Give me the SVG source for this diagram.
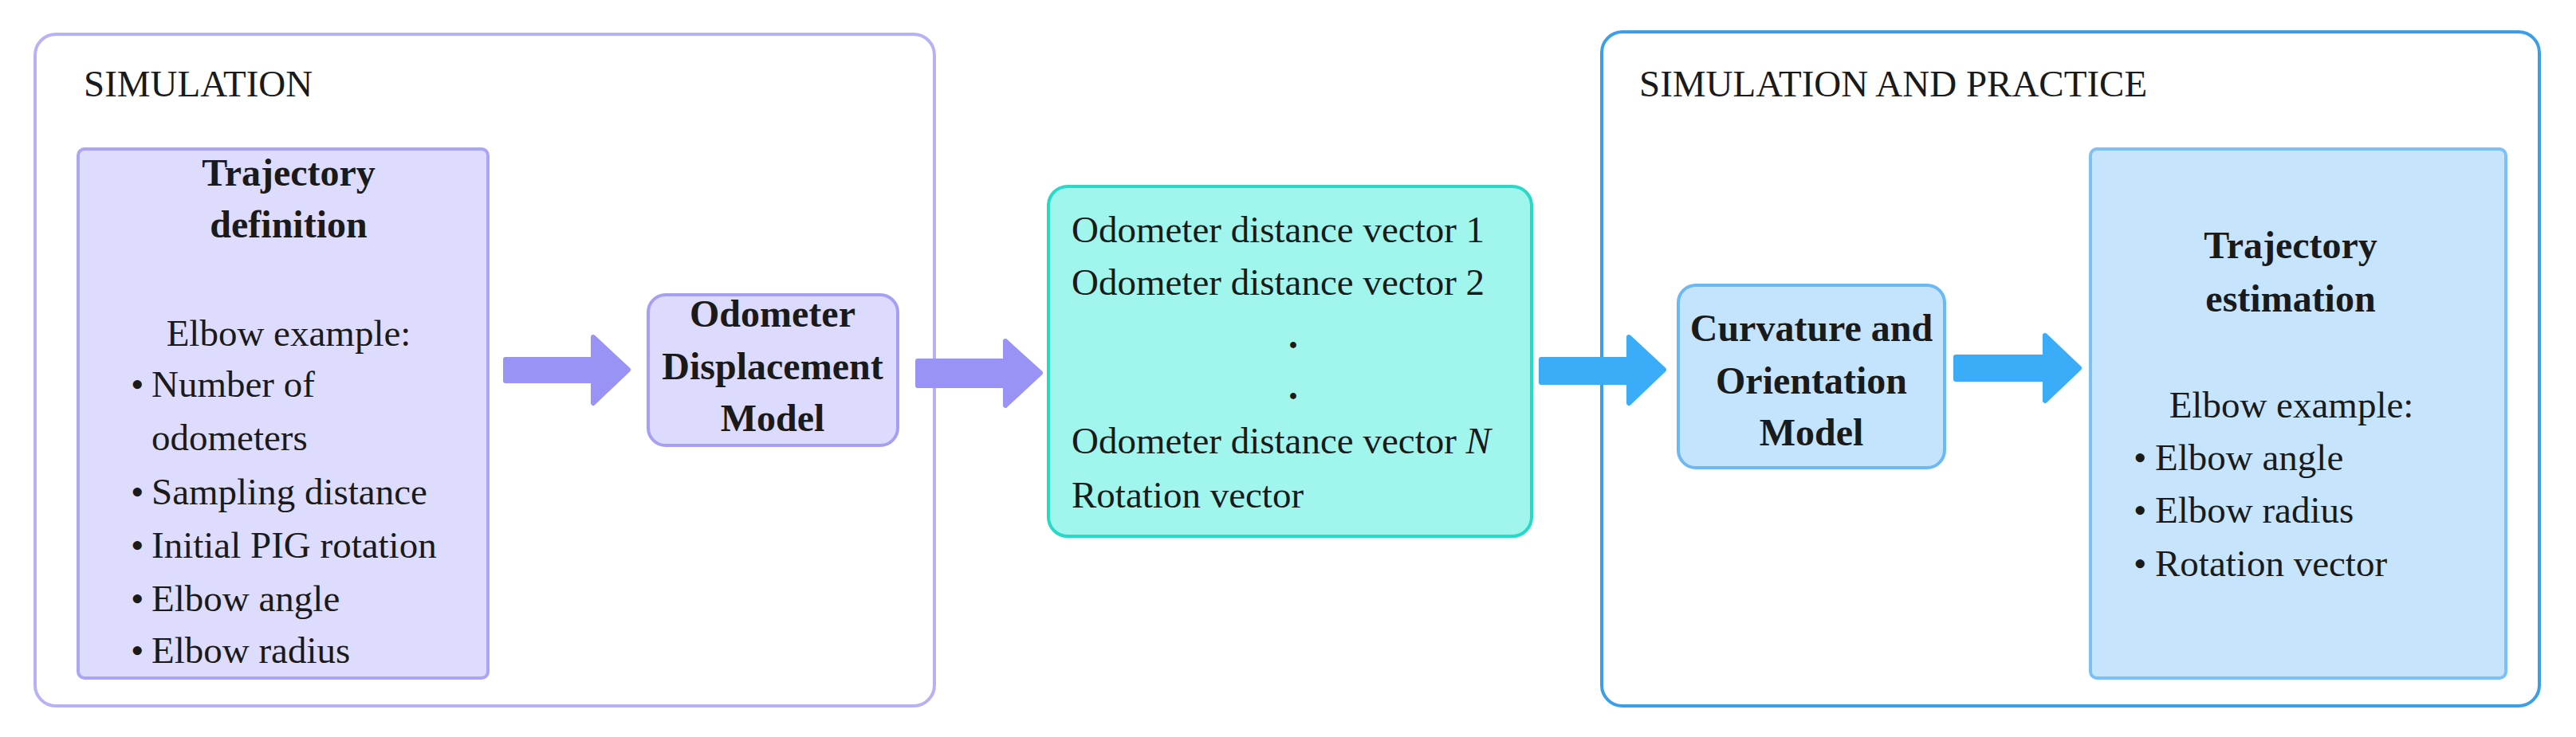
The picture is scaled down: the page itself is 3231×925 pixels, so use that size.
<svg xmlns="http://www.w3.org/2000/svg" width="3231" height="925" viewBox="0 0 3231 925">
<style>
text{font-family:"Liberation Serif","Times New Roman",serif;fill:#1a1a1a;font-size:47px}
.b{font-weight:bold;font-size:48px}
.m{text-anchor:middle}
.pa{fill:#9a93f6;stroke:#9a93f6;stroke-width:6;stroke-linejoin:round}
.ba{fill:#3aacf8;stroke:#3aacf8;stroke-width:6;stroke-linejoin:round}
</style>
<rect width="3231" height="925" fill="#ffffff"/>
<g id="group-simulation">
<rect x="44" y="43" width="1128" height="843" rx="26" fill="#ffffff" stroke="#b7b2f6" stroke-width="4"/>
<text x="105" y="121">SIMULATION</text>
</g>
<g id="group-practice">
<rect x="2009" y="40" width="1176" height="846" rx="26" fill="#ffffff" stroke="#3a9ee8" stroke-width="4"/>
<text x="2056" y="121">SIMULATION AND PRACTICE</text>
</g>
<g id="node-trajectory-definition">
<rect x="98" y="187" width="514" height="664" rx="8" fill="#dedcfd" stroke="#aaa5f6" stroke-width="4"/>
<text class="b m" x="362" y="233">Trajectory</text>
<text class="b m" x="362" y="298">definition</text>
<text class="m" x="362" y="434">Elbow example:</text>
<text x="164" y="498">•</text><text x="190" y="498">Number of</text>
<text x="190" y="565">odometers</text>
<text x="164" y="633">•</text><text x="190" y="633">Sampling distance</text>
<text x="164" y="700">•</text><text x="190" y="700">Initial PIG rotation</text>
<text x="164" y="767">•</text><text x="190" y="767">Elbow angle</text>
<text x="164" y="832">•</text><text x="190" y="832">Elbow radius</text>
</g>
<g id="node-odometer-model">
<rect x="813" y="370" width="313" height="189" rx="22" fill="#dcdafd" stroke="#a5a0f5" stroke-width="4"/>
<text class="b m" x="969" y="410">Odometer</text>
<text class="b m" x="969" y="476">Displacement</text>
<text class="b m" x="969" y="541">Model</text>
</g>
<g id="node-distance-vectors">
<rect x="1315" y="234" width="606" height="439" rx="24" fill="#a0f5ec" stroke="#26d9c9" stroke-width="4"/>
<text x="1344" y="304">Odometer distance vector 1</text>
<text x="1344" y="370">Odometer distance vector 2</text>
<text class="b m" x="1622" y="437">.</text>
<text class="b m" x="1622" y="501">.</text>
<text x="1344" y="569">Odometer distance vector <tspan font-style="italic">N</tspan></text>
<text x="1344" y="637">Rotation vector</text>
</g>
<g id="node-curvature-model">
<rect x="2105" y="358" width="334" height="229" rx="22" fill="#c4e4fd" stroke="#6ab8f4" stroke-width="4"/>
<text class="b m" x="2272" y="428">Curvature and</text>
<text class="b m" x="2272" y="494">Orientation</text>
<text class="b m" x="2272" y="559">Model</text>
</g>
<g id="node-trajectory-estimation">
<rect x="2622" y="187" width="521" height="664" rx="8" fill="#c6e5fd" stroke="#7cc0f5" stroke-width="4"/>
<text class="b m" x="2873" y="324">Trajectory</text>
<text class="b m" x="2873" y="391">estimation</text>
<text class="m" x="2874" y="524">Elbow example:</text>
<text x="2676" y="590">•</text><text x="2703" y="590">Elbow angle</text>
<text x="2676" y="656">•</text><text x="2703" y="656">Elbow radius</text>
<text x="2676" y="723">•</text><text x="2703" y="723">Rotation vector</text>
</g>
<g id="connectors">
<path class="pa" d="M634,451 H744 V423 L788,464 L744,506 V478 H634 Z"/>
<path class="pa" d="M1151,453 H1261 V428 L1305,468 L1261,509 V484 H1151 Z"/>
<path class="ba" d="M1933,451 H2043 V423 L2087,464 L2043,506 V480 H1933 Z"/>
<path class="ba" d="M2453,448 H2565 V421 L2608,462 L2565,503 V476 H2453 Z"/>
</g>
</svg>
